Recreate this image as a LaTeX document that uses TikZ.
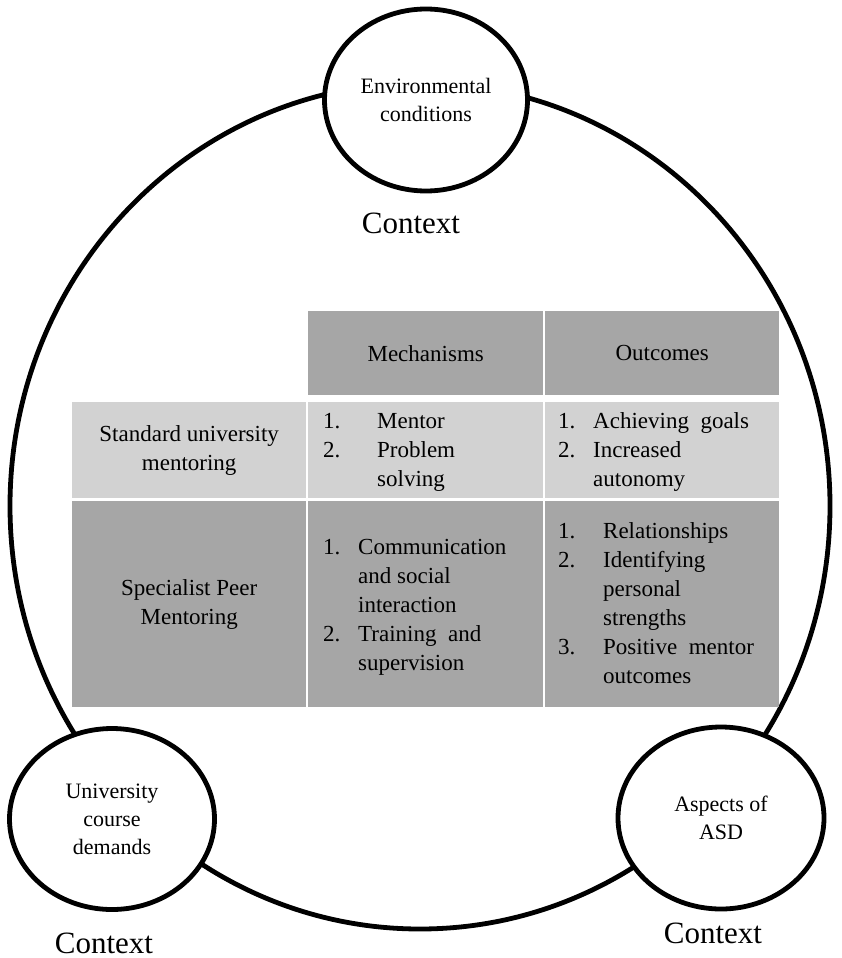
\documentclass[tikz,border=0pt]{standalone}
\usepackage{fontspec}
\setmainfont{Liberation Serif}
\usetikzlibrary{shapes.geometric}
\definecolor{celldark}{RGB}{166,166,166}
\definecolor{celllight}{RGB}{210,210,210}
\begin{document}
\begin{tikzpicture}[x=1pt,y=-1pt,
  ring/.style={draw=black, line width=4.8pt, ellipse, inner sep=0pt},
  factor/.style={ring, fill=white, align=center, font=\fontsize{22}{28}\selectfont},
  ctxlabel/.style={font=\fontsize{31}{36}\selectfont, inner sep=0pt},
  cell/.style={rectangle, inner sep=0pt, anchor=north west, align=center,
    font=\fontsize{23}{29}\selectfont},
  darkcell/.style={cell, fill=celldark},
  lightcell/.style={cell, fill=celllight},
  list/.style={anchor=west, inner sep=0pt, font=\fontsize{23}{29}\selectfont}
]
\useasboundingbox (0,0) rectangle (841,958);

% outer context ring
\node[ring, minimum width=820pt, minimum height=846pt] (frame) at (420,506) {};

% contextual factors
\node[factor, minimum width=203pt, minimum height=182pt] (env) at (426,100) {Environmental\\conditions};
\node[factor, minimum width=205pt, minimum height=181pt] (uni) at (112,819) {University\\course\\demands};
\node[factor, minimum width=206pt, minimum height=182pt] (asd) at (721,818) {Aspects of\\ASD};

\node[ctxlabel] (ctxtop) at (411,223) {Context};
\node[ctxlabel] (ctxleft) at (104,943) {Context};
\node[ctxlabel] (ctxright) at (713,933) {Context};

% table: header row
\node[darkcell, minimum width=235pt, minimum height=84pt] (hmech) at (308,311) {Mechanisms};
\node[darkcell, minimum width=234pt, minimum height=84pt] (hout) at (545,311) {Outcomes};

% row 1: standard mentoring
\node[lightcell, minimum width=234pt, minimum height=96pt] (r1a) at (72,402) {Standard university\\mentoring};
\node[lightcell, minimum width=235pt, minimum height=96pt] (r1b) at (308,402) {};
\node[lightcell, minimum width=234pt, minimum height=96pt] (r1c) at (545,402) {};

% row 2: specialist peer mentoring
\node[darkcell, minimum width=234pt, minimum height=206pt] (r2a) at (72,501) {Specialist Peer\\Mentoring};
\node[darkcell, minimum width=235pt, minimum height=206pt] (r2b) at (308,501) {};
\node[darkcell, minimum width=234pt, minimum height=206pt] (r2c) at (545,501) {};

% list contents
\node[list] (l1b) at ([xshift=15pt,yshift=-1pt]r1b.west)
  {\begin{tabular}{@{}p{54pt}@{}l@{}}1.&Mentor\\2.&Problem\\&solving\end{tabular}};
\node[list] (l1c) at ([xshift=13pt,yshift=-1pt]r1c.west)
  {\begin{tabular}{@{}p{35pt}@{}l@{}}1.&Achieving\ \ goals\\2.&Increased\\&autonomy\end{tabular}};
\node[list] (l2b) at ([xshift=15pt,yshift=-2pt]r2b.west)
  {\begin{tabular}{@{}p{35pt}@{}l@{}}1.&Communication\\&and social\\&interaction\\2.&Training\ \ and\\&supervision\end{tabular}};
\node[list] (l2c) at ([xshift=13pt,yshift=-1pt]r2c.west)
  {\begin{tabular}{@{}p{45pt}@{}l@{}}1.&Relationships\\2.&Identifying\\&personal\\&strengths\\3.&Positive\ \ mentor\\&outcomes\end{tabular}};
\end{tikzpicture}
\end{document}
